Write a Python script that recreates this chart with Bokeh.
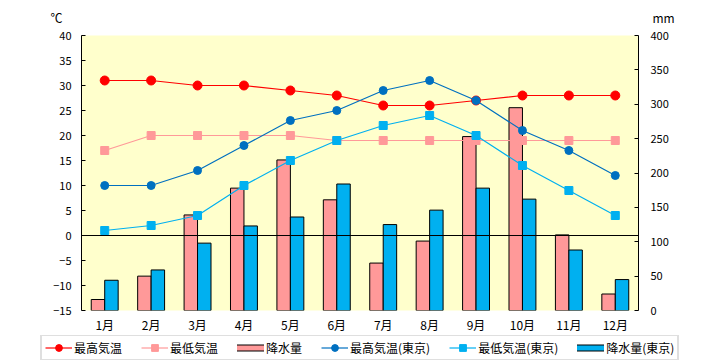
from bokeh.plotting import figure
from bokeh.layouts import column
from bokeh.models import (Range1d, FactorRange, LinearAxis, FixedTicker, Span,
                          Legend, LegendItem, Label, ColumnDataSource)
from bokeh.transform import dodge
from bokeh.embed import file_html
from bokeh.resources import INLINE

months = ["1月", "2月", "3月", "4月", "5月", "6月", "7月", "8月", "9月", "10月", "11月", "12月"]
tmax = [31, 31, 30, 30, 29, 28, 26, 26, 27, 28, 28, 28]
tmin = [17, 20, 20, 20, 20, 19, 19, 19, 19, 19, 19, 19]
precip = [16, 50, 139, 178, 219, 161, 69, 101, 253, 295, 110, 24]
tokyo_tmax = [10, 10, 13, 18, 23, 25, 29, 31, 27, 21, 17, 12]
tokyo_tmin = [1, 2, 4, 10, 15, 19, 22, 24, 20, 14, 9, 4]
tokyo_precip = [44, 59, 98, 123, 136, 184, 125, 146, 178, 162, 88, 45]
temp_ticks = [-15, -10, -5, 0, 5, 10, 15, 20, 25, 30, 35, 40]
mm_ticks = [0, 50, 100, 150, 200, 250, 300, 350, 400]
series_labels = ["最高気温", "最低気温", "降水量", "最高気温(東京)", "最低気温(東京)", "降水量(東京)"]

src = ColumnDataSource(dict(month=months, tmax=tmax, tmin=tmin, precip=precip,
                            ttmax=tokyo_tmax, ttmin=tokyo_tmin, tprecip=tokyo_precip))

FONT = "Noto Sans CJK JP"
RED = "#FF0000"
PINK = "#FF9999"
DBLUE = "#0070C0"
LBLUE = "#00B0F0"
W = 720


def blank_fig(h):
    f = figure(width=W, height=h, x_range=Range1d(0, W), y_range=Range1d(0, h),
               x_axis_type=None, y_axis_type=None, output_backend="svg",
               toolbar_location=None, min_border=0, frame_align=False,
               background_fill_color="white", border_fill_color="white")
    f.outline_line_color = None
    f.grid.visible = False
    f.title.visible = False
    return f


# ---- top strip: unit captions ----
top = blank_fig(27)
top.add_layout(Label(x=56, y=10, text="℃", text_font=FONT, text_font_size="12px",
                     text_align="center", text_baseline="middle", text_color="black"))
top.add_layout(Label(x=663, y=10, text="mm", text_font=FONT, text_font_size="12px",
                     text_align="center", text_baseline="middle", text_color="black"))

# ---- main chart ----
p = figure(frame_width=557, frame_height=275, x_range=FactorRange(*months), y_range=Range1d(-15, 40),
           output_backend="svg", toolbar_location=None, frame_align=False,
           min_border_left=81, min_border_right=82, min_border_top=8, min_border_bottom=20,
           background_fill_color="#FFFFCC", border_fill_color="white")
p.title.visible = False
p.extra_y_ranges = {"mm": Range1d(0, 400)}
p.outline_line_color = None
p.xgrid.visible = False
p.ygrid.visible = False

ya = p.yaxis[0]
ya.ticker = FixedTicker(ticks=temp_ticks)
ya.major_tick_in = 4
ya.major_tick_out = 0
ya.minor_tick_line_color = None
ya.axis_line_color = "black"
ya.major_tick_line_color = "black"
ya.major_label_text_font = FONT
ya.major_label_text_font_size = "11px"
ya.major_label_text_color = "black"
ya.major_label_standoff = 10

ra = LinearAxis(y_range_name="mm", ticker=FixedTicker(ticks=mm_ticks))
ra.major_tick_in = 4
ra.major_tick_out = 0
ra.minor_tick_line_color = None
ra.axis_line_color = "black"
ra.major_tick_line_color = "black"
ra.major_label_text_font = FONT
ra.major_label_text_font_size = "11px"
ra.major_label_text_color = "black"
ra.major_label_standoff = 12
p.add_layout(ra, "right")

xa = p.xaxis[0]
xa.axis_line_color = None
xa.major_tick_line_color = None
xa.minor_tick_line_color = None
xa.major_tick_in = 0
xa.major_tick_out = 0
xa.minor_tick_in = 0
xa.minor_tick_out = 0
xa.major_label_text_font = FONT
xa.major_label_text_font_size = "12px"
xa.major_label_text_color = "black"
xa.major_label_standoff = 5

p.vbar(x=dodge("month", -0.145, range=p.x_range), top="precip", bottom=0, width=0.29,
       source=src, y_range_name="mm", fill_color=PINK, line_color="black", line_width=1)
p.vbar(x=dodge("month", 0.145, range=p.x_range), top="tprecip", bottom=0, width=0.29,
       source=src, y_range_name="mm", fill_color=LBLUE, line_color="black", line_width=1)

p.add_layout(Span(location=0, dimension="width", line_color="black", line_width=1))

p.line("month", "tmax", source=src, line_color=RED, line_width=1.2)
p.scatter("month", "tmax", source=src, marker="circle", size=9, fill_color=RED, line_color=RED)
p.line("month", "tmin", source=src, line_color=PINK, line_width=1.2)
p.scatter("month", "tmin", source=src, marker="square", size=8, fill_color=PINK, line_color=PINK)
p.line("month", "ttmax", source=src, line_color=DBLUE, line_width=1.2)
p.scatter("month", "ttmax", source=src, marker="circle", size=8, fill_color=DBLUE, line_color=DBLUE)
p.line("month", "ttmin", source=src, line_color=LBLUE, line_width=1.2)
p.scatter("month", "ttmin", source=src, marker="square", size=8, fill_color=LBLUE, line_color=LBLUE)

# ---- bottom strip: legend ----
lg = blank_fig(28)
off = dict(x=[-100], y=[-100])


def line_key(color):
    return lg.line(line_color=color, line_width=1.2, **off)


def marker_key(marker, color):
    return lg.scatter(marker=marker, fill_color=color, line_color=color, **off)


def bar_key(color):
    a = lg.line(line_color="black", line_width=7, line_cap="square", **off)
    b = lg.line(line_color=color, line_width=5, line_cap="square", **off)
    return [a, b]


key_renderers = [
    [line_key(RED), marker_key("circle", RED)],
    [line_key(PINK), marker_key("square", PINK)],
    bar_key(PINK),
    [line_key(DBLUE), marker_key("circle", DBLUE)],
    [line_key(LBLUE), marker_key("square", LBLUE)],
    bar_key(LBLUE),
]

legend = Legend(items=[LegendItem(label=t, renderers=r) for t, r in zip(series_labels, key_renderers)],
                orientation="horizontal", location=(40, 2), glyph_width=27, glyph_height=17,
                padding=3, spacing=19, label_standoff=2, label_text_font=FONT,
                label_text_font_size="12px", label_text_color="black",
                border_line_color="#C0C0C0", border_line_width=2,
                background_fill_color="white", background_fill_alpha=1, margin=0)
lg.add_layout(legend, "center")

layout = column(top, p, lg, spacing=0)

open("out.html", "w").write(file_html(layout, INLINE))
